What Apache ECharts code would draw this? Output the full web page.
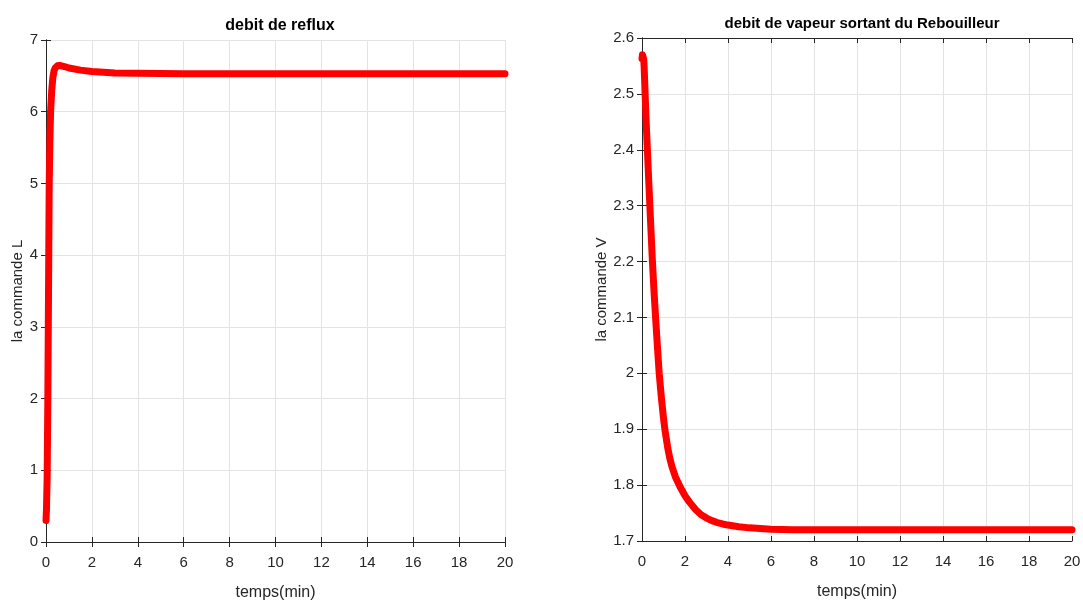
<!DOCTYPE html>
<html>
<head>
<meta charset="utf-8">
<script src="https://cdn.jsdelivr.net/npm/echarts@6/dist/echarts.min.js"></script>
<style>
  html, body { margin: 0; padding: 0; background: #fff; }
  #chart { width: 1083px; height: 604px; }
</style>
</head>
<body>
<div id="chart"></div>
<script>
// time values (min) and commands
const timeL = [0, 0.02, 0.05, 0.08, 0.1, 0.12, 0.14, 0.17, 0.2, 0.25, 0.3, 0.35, 0.4, 0.5, 0.6, 0.8, 1.0, 1.5, 2, 3, 4, 6, 10, 20];
const commandL = [0.3, 0.45, 0.9, 2.0, 3.0, 4.0, 5.0, 5.6, 6.0, 6.3, 6.48, 6.57, 6.61, 6.64, 6.645, 6.63, 6.61, 6.58, 6.56, 6.54, 6.535, 6.53, 6.53, 6.53];

const timeV = [0, 0.02, 0.04, 0.06, 0.08, 0.1, 0.14, 0.2, 0.25, 0.3, 0.37, 0.42, 0.48, 0.56, 0.64, 0.72, 0.8, 0.9, 1.0, 1.07, 1.2, 1.3, 1.4, 1.55, 1.77, 2.0, 2.2, 2.5, 2.75, 3.0, 3.25, 3.5, 3.75, 4.0, 4.5, 5.0, 5.5, 6.0, 7.0, 8.0, 20];
const commandV = [2.563, 2.57, 2.573, 2.57, 2.562, 2.548, 2.505, 2.444, 2.4, 2.356, 2.296, 2.254, 2.204, 2.146, 2.095, 2.046, 2.0, 1.957, 1.92, 1.898, 1.866, 1.847, 1.832, 1.815, 1.797, 1.781, 1.77, 1.756, 1.747, 1.741, 1.7365, 1.733, 1.7305, 1.7285, 1.7255, 1.7235, 1.7222, 1.7212, 1.7203, 1.72, 1.72];

const titles = ["debit de reflux", "debit de vapeur sortant du Rebouilleur"];
const yNames = ["la commande L", "la commande V"];
const xName = "temps(min)";

const sans = "'Liberation Sans', Arial, sans-serif";
const axisColor = "#262626";

function pairs(xs, ys) {
    return xs.map((x, i) => [x, ys[i]]);
}

function bottomX(gridIndex) {
    return {
        type: "value", gridIndex: gridIndex, min: 0, max: 20, interval: 2,
        name: xName, nameLocation: "middle", nameGap: 43,
        nameTextStyle: { fontFamily: sans, fontSize: 16, color: axisColor },
        axisLine: { lineStyle: { color: axisColor, width: 1 } },
        axisTick: { inside: true, length: 5, lineStyle: { color: axisColor } },
        axisLabel: { fontFamily: sans, fontSize: 15, color: axisColor, margin: 13 },
        splitLine: { show: true, lineStyle: { color: "#e3e3e3" } },
    };
}

function topX(gridIndex) {
    return {
        type: "value", gridIndex: gridIndex, position: "top", min: 0, max: 20, interval: 2,
        axisLine: { show: true, lineStyle: { color: axisColor } },
        axisTick: { show: true, inside: true, length: 5, lineStyle: { color: axisColor } },
        axisLabel: { show: false },
        splitLine: { show: false },
    };
}

function leftY(gridIndex, min, max, interval, gap, decimals) {
    return {
        type: "value", gridIndex: gridIndex, min: min, max: max, interval: interval,
        name: yNames[gridIndex], nameLocation: "middle", nameGap: gap,
        nameTextStyle: { fontFamily: sans, fontSize: 15, color: axisColor },
        axisLine: { show: true, lineStyle: { color: axisColor } },
        axisTick: { show: true, inside: true, length: 5, lineStyle: { color: axisColor } },
        axisLabel: {
            fontFamily: sans, fontSize: 15, color: axisColor, margin: 8,
            formatter: (v) => decimals ? String(Math.round(v * 10) / 10) : String(Math.round(v)),
        },
        splitLine: { show: true, lineStyle: { color: "#e3e3e3" } },
    };
}

function rightY(gridIndex, min, max, interval) {
    return {
        type: "value", gridIndex: gridIndex, position: "right", min: min, max: max, interval: interval,
        axisLine: { show: true, lineStyle: { color: axisColor } },
        axisTick: { show: true, inside: true, length: 5, lineStyle: { color: axisColor } },
        axisLabel: { show: false },
        splitLine: { show: false },
    };
}

const chart = echarts.init(document.getElementById("chart"), null, { renderer: "canvas" });

chart.setOption({
    animation: false,
    backgroundColor: "#ffffff",
    title: [
        { text: titles[0], left: 275, top: 13, textAlign: "center",
          textStyle: { fontFamily: sans, fontSize: 16, fontWeight: "bold", color: "#000" } },
        { text: titles[1], left: 857, top: 11, textAlign: "center",
          textStyle: { fontFamily: sans, fontSize: 15, fontWeight: "bold", color: "#000" } },
    ],
    grid: [
        { left: 46, top: 40, right: 578, bottom: 62, outerBoundsMode: "none" },
        { left: 642, top: 38, right: 11, bottom: 63, outerBoundsMode: "none" },
    ],
    xAxis: [bottomX(0), topX(0), bottomX(1), topX(1)],
    yAxis: [
        leftY(0, 0, 7, 1, 19, false),
        rightY(0, 0, 7, 1),
        leftY(1, 1.7, 2.6, 0.1, 25, true),
        rightY(1, 1.7, 2.6, 0.1),
    ],
    series: [
        {
            type: "line", xAxisIndex: 0, yAxisIndex: 0,
            data: pairs(timeL, commandL),
            smooth: false, showSymbol: false,
            lineStyle: { color: "#ff0000", width: 7, cap: "round", join: "round" },
        },
        {
            type: "line", xAxisIndex: 2, yAxisIndex: 2,
            data: pairs(timeV, commandV),
            smooth: false, showSymbol: false,
            lineStyle: { color: "#ff0000", width: 7, cap: "round", join: "round" },
        },
    ],
});
</script>
</body>
</html>
